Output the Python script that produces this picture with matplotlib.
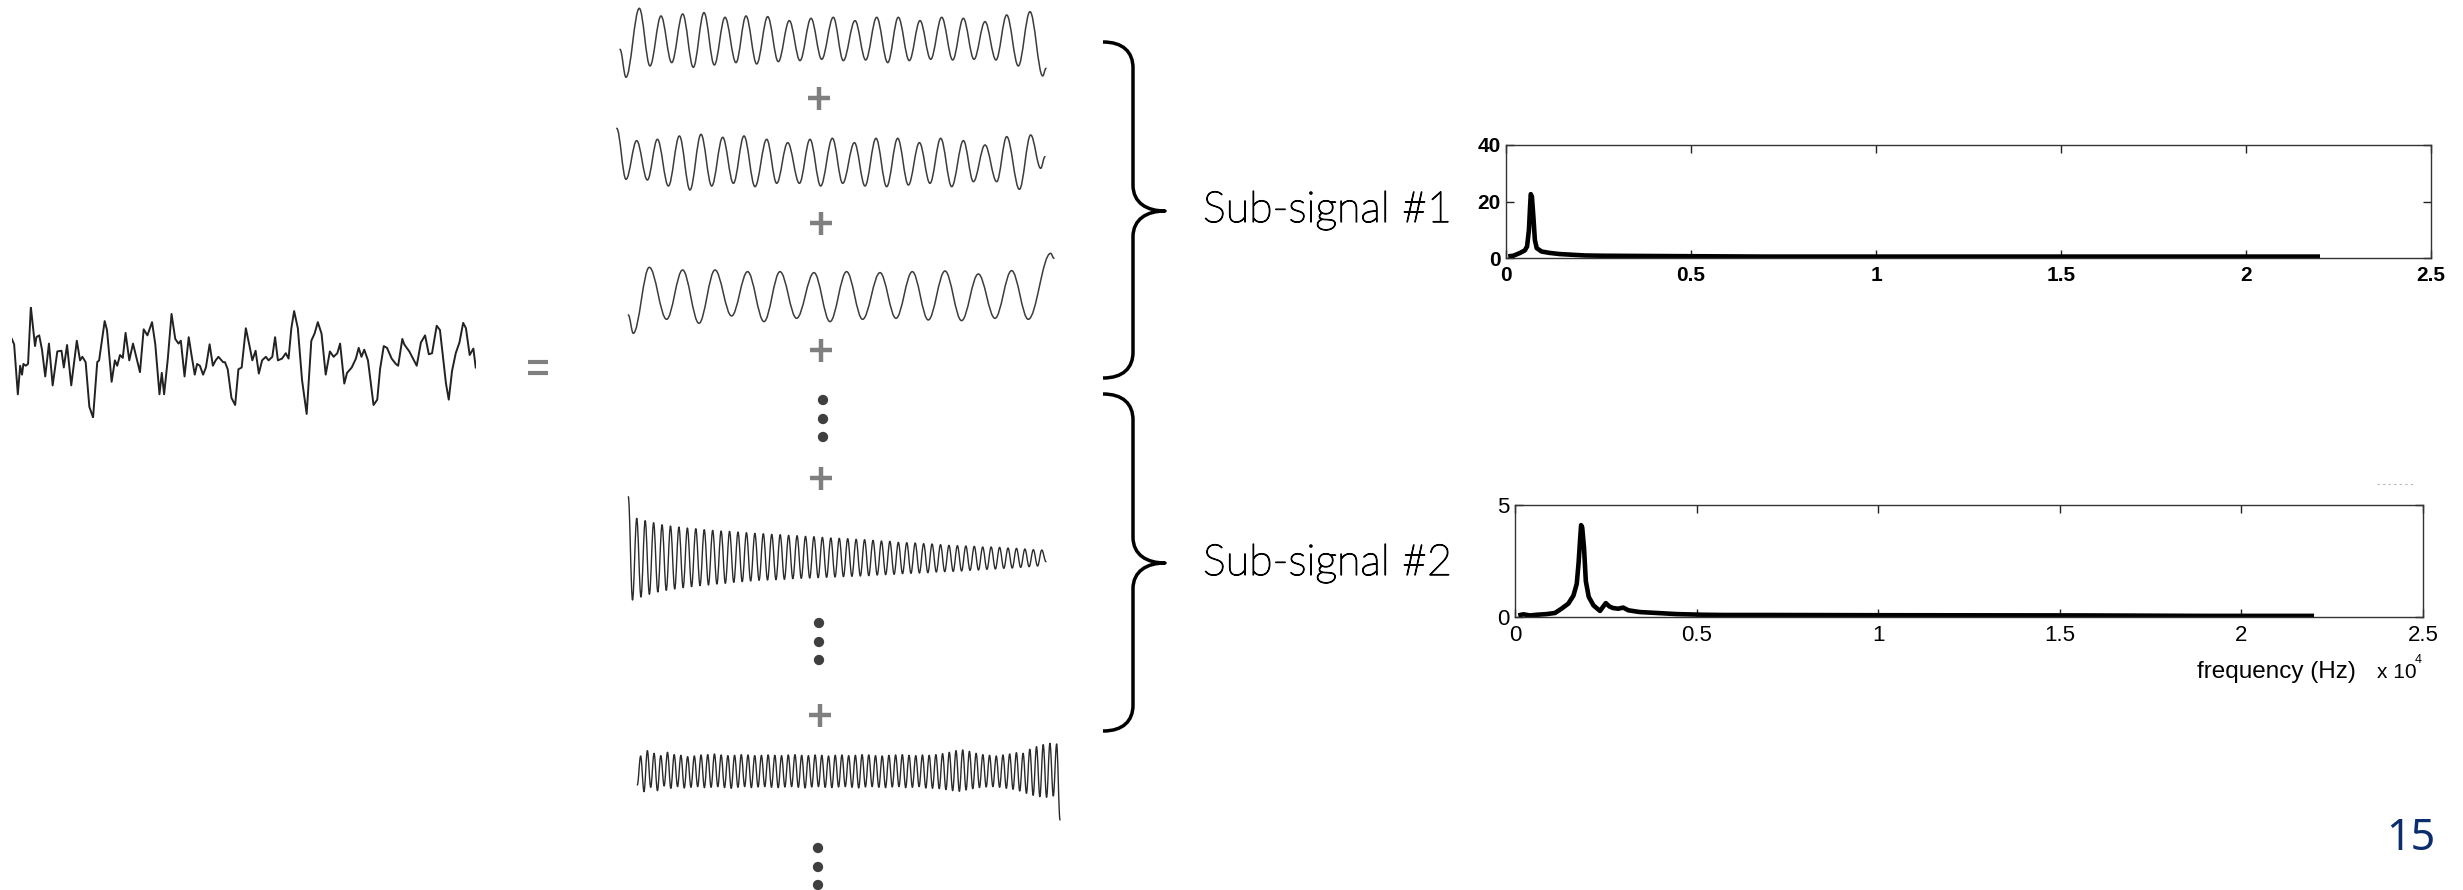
import numpy as np
import matplotlib.pyplot as plt
import matplotlib.patheffects as pe
from matplotlib.path import Path
from matplotlib.patches import PathPatch

W, H = 2463, 890

# mixed signal: time (ms) and amplitude
t_mix = [0.0, 0.5, 1.3, 1.8, 2.2, 2.5, 3.0, 3.5, 4.1, 5.0, 5.3, 5.9, 6.5, 7.2, 8.0, 8.8,
         9.8, 10.7, 11.2, 11.9, 12.8, 14.0, 14.7, 15.2, 15.9, 16.7, 17.5, 18.4, 18.8, 20.0,
         20.5, 21.5, 22.2, 22.7, 23.3, 23.9, 24.5, 25.3, 26.1, 26.8, 27.6, 28.4, 29.2, 30.2,
         30.9, 31.8, 32.3, 32.8, 33.6, 34.4, 35.2, 35.9, 36.4, 37.2, 38.1, 38.7, 39.4, 39.9,
         40.5, 41.2, 41.8, 42.6, 43.3, 43.9, 44.5, 45.5, 45.9, 46.5, 47.3, 48.1, 48.8, 49.5,
         50.4, 51.2, 51.8, 52.5, 53.2, 53.9, 54.7, 55.3, 56.1, 56.7, 57.3, 58.2, 59.0, 59.6,
         60.2, 60.8, 61.6, 62.5, 63.5, 64.1, 64.5, 65.2, 65.9, 66.7, 67.6, 68.5, 69.3, 70.1,
         70.7, 71.6, 72.2, 73.2, 74.1, 74.7, 75.3, 75.9, 76.7, 77.9, 78.7, 79.3, 80.1, 80.8,
         81.8, 82.7, 83.2, 84.1, 84.5, 85.6, 86.2, 87.2, 88.1, 89.0, 89.8, 90.5, 91.5, 92.2,
         93.5, 94.1, 94.8, 95.6, 96.4, 97.2, 97.8, 98.6, 99.4, 99.9]
v_mix = [0.70, 0.55, -0.85, -0.05, -0.30, 0.00, -0.05, 0.00, 1.60, 0.50, 0.75, 0.80, 0.40,
         -0.35, 0.57, -0.60, 0.35, 0.37, -0.10, 0.53, -0.60, 0.65, 0.10, 0.20, 0.05, -1.20,
         -1.50, 0.05, 0.10, 1.20, 0.95, -0.50, 0.10, -0.05, 0.25, 0.17, 0.87, 0.10, 0.57,
         0.20, -0.23, 0.97, 0.80, 1.17, 0.55, -0.85, -0.25, -0.85, 0.15, 1.40, 0.70, 0.57,
         0.65, -0.35, 0.75, 0.25, -0.30, 0.00, -0.05, -0.30, -0.10, 0.55, -0.05, 0.10, 0.20,
         0.05, 0.05, -0.15, -0.95, -1.15, -0.15, -0.10, 1.00, 0.50, 0.10, 0.37, -0.27, 0.10,
         0.20, 0.10, 0.20, 0.75, 0.10, 0.15, 0.30, 0.15, 1.00, 1.48, 1.00, -0.45, -1.40,
         -0.15, 0.65, 0.85, 1.17, 0.85, -0.30, 0.35, 0.20, 0.30, 0.57, -0.55, -0.25, -0.10,
         0.15, 0.45, 0.20, 0.40, 0.10, -1.15, -1.00, -0.15, 0.50, 0.45, 0.15, 0.00, -0.05,
         0.70, 0.55, 0.35, 0.20, -0.05, 0.60, 0.80, 0.27, 0.30, 1.07, 0.95, -0.55, -1.00,
         -0.20, 0.30, 0.60, 1.15, 1.00, 0.25, 0.43, -0.10]

# components 1-3: turning points (time in ms, amplitude)
t_c1 = [0.0, 0.6, 1.93, 3.0, 4.1, 5.17, 6.27, 7.33, 8.4, 9.43, 10.5, 11.6, 12.6, 13.67,
        14.77, 15.83, 16.93, 18.0, 19.1, 20.17, 21.33, 22.33, 23.5, 24.57, 25.67, 26.77,
        27.83, 28.93, 30.0, 31.07, 32.17, 33.27, 34.33, 35.4, 36.5, 37.6, 38.67, 39.83,
        41.0, 42.27, 42.6]
v_c1 = [-2.0, -10.4, 10.3, -7.0, 8.0, -6.0, 8.6, -7.4, 9.0, -6.7, 7.6, -6.0, 8.0, -6.4,
        7.8, -5.7, 6.6, -5.4, 7.3, -5.0, 7.6, -5.4, 6.6, -5.2, 7.6, -6.0, 7.6, -5.4, 6.6,
        -5.0, 7.6, -5.2, 7.3, -5.0, 6.3, -5.2, 8.3, -7.0, 9.3, -10.0, -7.7]

t_c2 = [0.0, 0.93, 2.0, 3.07, 4.07, 5.17, 6.27, 7.33, 8.43, 9.5, 10.6, 11.67, 12.73, 13.83,
        15.0, 16.0, 17.1, 18.27, 19.33, 20.4, 21.57, 22.6, 23.77, 24.83, 25.93, 27.0, 28.1,
        29.17, 30.27, 31.33, 32.4, 33.5, 34.67, 35.67, 36.83, 38.0, 39.0, 40.27, 41.4,
        42.4, 42.83]
v_c2 = [9.5, -5.8, 5.8, -6.0, 6.2, -7.8, 7.2, -9.0, 7.7, -7.8, 6.8, -7.0, 7.2, -8.0, 6.2,
        -7.0, 5.2, -7.0, 6.2, -7.8, 6.5, -7.0, 5.2, -7.8, 6.5, -8.0, 6.5, -7.5, 5.2, -7.0,
        6.5, -8.0, 5.8, -6.5, 4.5, -6.5, 7.0, -8.8, 7.5, -2.5, 1.0]

t_c3 = [0.0, 0.5, 2.1, 3.83, 5.43, 7.07, 8.67, 10.33, 11.93, 13.57, 15.17, 16.83, 18.57,
        20.17, 21.83, 23.43, 25.17, 26.77, 28.4, 30.0, 31.67, 33.33, 35.0, 36.67, 38.33,
        40.0, 42.23, 42.57]
v_c3 = [-6.0, -11.5, 8.3, -7.3, 7.5, -8.5, 7.5, -6.3, 7.0, -8.0, 7.0, -7.0, 6.7, -8.0,
        7.0, -7.3, 6.7, -7.0, 7.0, -7.5, 7.2, -7.7, 6.3, -7.0, 7.3, -7.3, 12.5, 11.0]

# component 4 (decaying): start, alternating troughs/peaks, end
c4_start, c4_end = 18.5, -1.0
c4_peaks = [12.0, 11.3, 10.7, 10.1, 9.7, 9.4, 9.1, 8.9, 8.6, 8.4, 8.2, 8.1, 7.9, 7.7, 7.5,
            7.4, 7.2, 7.1, 6.9, 6.8, 6.6, 6.5, 6.3, 6.1, 6.0, 5.9, 5.7, 5.6, 5.4, 5.2, 5.1,
            4.8, 4.7, 4.6, 4.4, 4.3, 4.1, 3.9, 3.8, 3.7, 3.6, 3.4, 3.4, 3.3, 3.1, 3.0, 2.8,
            2.6, 2.5]
c4_troughs = [-12.5, -11.6, -10.8, -10.1, -9.6, -9.2, -8.8, -8.5, -8.2, -8.0, -7.7, -7.5,
              -7.2, -7.0, -6.8, -6.6, -6.5, -6.4, -6.3, -6.1, -6.0, -5.9, -5.8, -5.7, -5.6,
              -5.5, -5.4, -5.3, -5.2, -5.0, -4.9, -4.8, -4.6, -4.5, -4.4, -4.3, -4.1, -4.0,
              -3.9, -3.8, -3.6, -3.5, -3.3, -3.2, -3.0, -2.9, -2.7, -2.5, -2.3]

# component 5: start, alternating peaks/troughs, end
c5_start, c5_end = -4.5, -15.0
c5_peaks = [4.2, 5.8, 5.0, 4.3, 5.3, 4.6, 4.4, 4.0, 4.2, 4.5,
            4.6, 4.8, 4.5, 4.3, 4.4, 4.6, 4.5, 4.3, 4.4, 4.5,
            4.4, 4.3, 4.5, 4.6, 4.4, 4.3, 4.5, 4.4, 4.2, 4.4,
            4.5, 4.3, 4.4, 4.6, 4.5, 4.3, 4.2, 4.4, 4.5, 4.6,
            4.4, 4.3, 4.5, 4.4, 4.6, 4.9, 5.3, 5.8, 6.0, 5.6,
            5.0, 4.6, 4.4, 4.2, 4.5, 4.8, 5.2, 5.0, 6.2, 7.0,
            7.6, 8.0, 7.8]
c5_troughs = [-6.5, -5.2, -6.2, -4.8, -5.5, -5.0, -5.4, -5.2, -5.0, -5.3,
              -5.2, -5.0, -5.3, -5.5, -5.2, -5.0, -5.3, -5.1, -5.0, -5.2,
              -5.3, -5.1, -5.0, -5.2, -5.4, -5.1, -5.0, -5.2, -5.3, -5.1,
              -5.0, -5.2, -5.4, -5.1, -5.0, -5.2, -5.3, -5.1, -5.0, -5.3,
              -5.2, -5.0, -5.4, -5.5, -5.6, -5.9, -6.2, -6.4, -6.0, -5.6,
              -5.3, -5.1, -5.0, -5.2, -5.5, -5.8, -6.3, -7.0, -7.6, -8.0,
              -8.2, -7.8]

# spectra: frequency (x 10^4 Hz) and magnitude
f_sub1 = [0.006, 0.02, 0.038, 0.051, 0.057, 0.062, 0.065, 0.067, 0.070, 0.074, 0.078,
          0.083, 0.096, 0.118, 0.145, 0.172, 0.213, 0.262, 0.40, 0.70, 1.00, 1.50, 2.20]
a_sub1 = [0.6, 0.8, 1.8, 2.7, 4.1, 10.0, 18.0, 22.6, 21.7, 14.6, 6.4, 3.5, 2.3, 1.8, 1.4,
          1.2, 0.9, 0.8, 0.7, 0.5, 0.5, 0.5, 0.5]
f_sub2 = [0.009, 0.023, 0.041, 0.06, 0.087, 0.11, 0.128, 0.147, 0.161, 0.17, 0.175, 0.179,
          0.182, 0.185, 0.19, 0.195, 0.203, 0.216, 0.234, 0.243, 0.25, 0.26, 0.27, 0.284,
          0.298, 0.312, 0.344, 0.39, 0.445, 0.518, 0.573, 0.69, 1.0, 1.57, 1.9, 2.2]
a_sub2 = [0.07, 0.12, 0.07, 0.10, 0.13, 0.18, 0.37, 0.60, 0.96, 1.48, 2.4, 3.4, 4.1, 4.0,
          3.1, 1.6, 0.9, 0.52, 0.27, 0.47, 0.62, 0.47, 0.40, 0.37, 0.42, 0.30, 0.22, 0.18,
          0.13, 0.10, 0.09, 0.09, 0.08, 0.07, 0.05, 0.05]
freq_ticks = [0, 0.5, 1, 1.5, 2, 2.5]
freq_labels = ['0', '0.5', '1', '1.5', '2', '2.5']
labels = ['Sub-signal #1', 'Sub-signal #2']


def interleave(first, second):
    out = []
    for i in range(max(len(first), len(second))):
        if i < len(first):
            out.append(first[i])
        if i < len(second):
            out.append(second[i])
    return out


def box(x0, y0, x1, y1):
    # axes placed by pixel corners (top-left origin)
    return fig.add_axes([x0 / W, 1 - y1 / H, (x1 - x0) / W, (y1 - y0) / H])


def smooth_wave(ax, t, v, color, lw):
    # cubic segments with flat tangents at each turning point
    verts = [(t[0], v[0])]
    codes = [Path.MOVETO]
    for i in range(1, len(t)):
        dt = t[i] - t[i - 1]
        verts += [(t[i - 1] + 0.36 * dt, v[i - 1]), (t[i] - 0.36 * dt, v[i]), (t[i], v[i])]
        codes += [Path.CURVE4] * 3
    ax.add_patch(PathPatch(Path(verts, codes), fill=False, ec=color, lw=lw,
                           joinstyle='round', capstyle='round', clip_on=False))
    ax.set_xlim(min(t), max(t))
    ax.set_ylim(min(v), max(v))
    ax.axis('off')


def brace(ax, y0, ym, y1, x_end=1103, x_bar=1133, x_tip=1165, r=26):
    verts = [(x_end, y0), (x_bar - 10, y0), (x_bar, y0 + 10), (x_bar, y0 + r),
             (x_bar, ym - r),
             (x_bar, ym - 8), (x_tip - 18, ym), (x_tip, ym),
             (x_tip - 18, ym), (x_bar, ym + 8), (x_bar, ym + r),
             (x_bar, y1 - r),
             (x_bar, y1 - 10), (x_bar - 10, y1), (x_end, y1)]
    codes = [Path.MOVETO] + [Path.CURVE4] * 3 + [Path.LINETO] + [Path.CURVE4] * 6 + \
            [Path.LINETO] + [Path.CURVE4] * 3
    ax.add_patch(PathPatch(Path(verts, codes), fill=False, ec='black', lw=2.5,
                           capstyle='butt', joinstyle='round'))


def spectrum(ax, f, a, ymax, yticks, size, weight):
    ax.plot(f, a, color='black', lw=3.3, solid_joinstyle='round', solid_capstyle='butt')
    ax.set_xlim(0, 2.5)
    ax.set_ylim(0, ymax)
    ax.set_xticks(freq_ticks)
    ax.set_xticklabels(freq_labels)
    ax.set_yticks(yticks)
    ax.tick_params(direction='in', top=True, right=True, length=6, width=1.0,
                   color='#222222', labelsize=size, labelcolor='black')
    ax.tick_params(axis='x', pad=6)
    ax.tick_params(axis='y', pad=4)
    for lab in ax.get_xticklabels() + ax.get_yticklabels():
        lab.set_fontfamily('Liberation Sans')
        lab.set_fontweight(weight)
    for s in ax.spines.values():
        s.set_color('#333333')
        s.set_linewidth(1.0)


fig = plt.figure(figsize=(W / 100, H / 100), dpi=100)

# overlay in pixel coordinates for the slide decorations
ov = fig.add_axes([0, 0, 1, 1])
ov.set_xlim(0, W)
ov.set_ylim(H, 0)
ov.axis('off')

# mixed signal
ax = box(11.8, 306.8, 475.7, 417.5)
ax.plot(t_mix, v_mix, color='#222222', lw=1.4)
ax.set_xlim(min(t_mix), max(t_mix))
ax.set_ylim(min(v_mix), max(v_mix))
ax.axis('off')

# '=' sign
for yy in (362, 373):
    ov.plot([528, 548], [yy, yy], color='#808080', lw=3.0, solid_capstyle='butt')

# oscillatory components
smooth_wave(box(620, 8.3, 1046, 77.3), t_c1, v_c1, '#3c3c3c', 1.1)
smooth_wave(box(616.7, 128.3, 1045, 190), t_c2, v_c2, '#3c3c3c', 1.1)
smooth_wave(box(628.3, 253.3, 1054, 333.3), t_c3, v_c3, '#3c3c3c', 1.1)

v_c4 = [c4_start] + interleave(c4_troughs, c4_peaks) + [c4_end]
t_c4 = np.arange(len(v_c4))
smooth_wave(box(628.3, 496.7, 1046, 600), t_c4, v_c4, '#2a2a2a', 1.0)

v_c5 = [c5_start] + interleave(c5_peaks, c5_troughs) + [c5_end]
t_c5 = np.arange(len(v_c5))
smooth_wave(box(637.3, 743.3, 1060, 820), t_c5, v_c5, '#2a2a2a', 1.0)

# plus signs and ellipses between components
for px, py in [(819, 98), (821, 223), (821, 350), (821, 478), (820, 715)]:
    ov.plot([px - 11, px + 11], [py, py], color='#7f7f7f', lw=3.2, solid_capstyle='butt')
    ov.plot([px, px], [py - 11.5, py + 11.5], color='#7f7f7f', lw=3.2, solid_capstyle='butt')
for px, ys in [(823, (400, 419, 437)), (819, (623, 642, 660)), (818, (848, 867, 885))]:
    ov.scatter([px] * 3, list(ys), s=55, color='#3f3f3f', edgecolors='none')

# braces and group labels (thin face, stroked slightly for weight)
brace(ov, 42, 211, 378)
brace(ov, 394, 563, 731)
for txt, yb in zip(labels, (222, 575)):
    ov.text(1203, yb, txt, fontsize=31, family='Lato', fontweight='light',
            ha='left', va='baseline', color='black',
            path_effects=[pe.withStroke(linewidth=0.9, foreground='black')])

# spectra
ax1 = box(1506, 145, 2431, 258)
spectrum(ax1, f_sub1, a_sub1, 40, [0, 20, 40], 15, 'bold')
ax2 = box(1515, 505, 2423, 617)
spectrum(ax2, f_sub2, a_sub2, 5, [0, 5], 16, 'normal')

ov.text(2197, 678, 'frequency (Hz)', fontsize=17.5, family='Liberation Sans',
        ha='left', va='baseline')
ov.text(2377, 678, 'x 10', fontsize=15, family='Liberation Sans', ha='left', va='baseline')
ov.text(2415, 663, '4', fontsize=9, family='Liberation Sans', ha='left', va='baseline')
ov.plot([2377, 2413], [484, 484], color='#b5b5b5', lw=0.8, ls=(0, (2, 3)))

# page number
ov.text(2435, 850, '15', fontsize=31, family='Noto Sans', color='#0b2d6e',
        ha='right', va='baseline')

fig.savefig('out.png', dpi=100)
